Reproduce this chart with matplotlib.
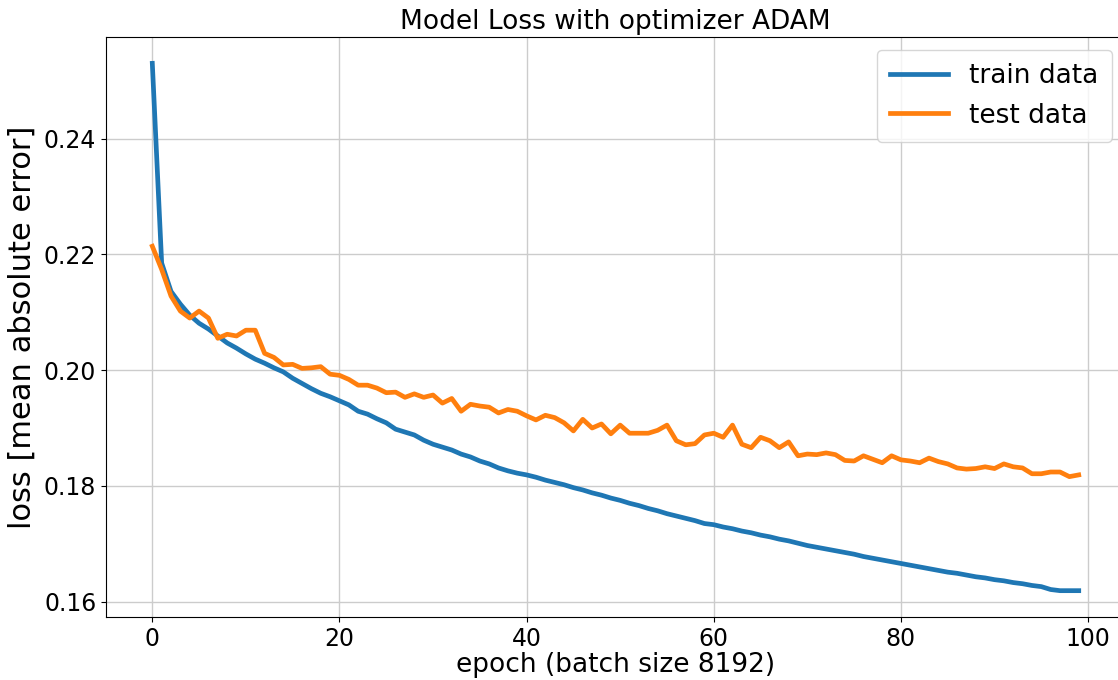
import numpy as np
import matplotlib
matplotlib.use("Agg")
import matplotlib.pyplot as plt

# loss per epoch
train_loss = [
    0.2530, 0.2185, 0.2136, 0.2114, 0.2095, 0.2081, 0.2071, 0.2059, 0.2047, 0.2038,
    0.2028, 0.2019, 0.2012, 0.2004, 0.1997, 0.1986, 0.1977, 0.1968, 0.1960, 0.1954,
    0.1947, 0.1940, 0.1929, 0.1924, 0.1916, 0.1909, 0.1898, 0.1893, 0.1888, 0.1879,
    0.1872, 0.1867, 0.1862, 0.1855, 0.1850, 0.1843, 0.1838, 0.1831, 0.1826, 0.1822,
    0.1819, 0.1815, 0.1810, 0.1806, 0.1802, 0.1797, 0.1793, 0.1788, 0.1784, 0.1779,
    0.1775, 0.1770, 0.1766, 0.1761, 0.1757, 0.1752, 0.1748, 0.1744, 0.1740, 0.1735,
    0.1733, 0.1729, 0.1726, 0.1722, 0.1719, 0.1715, 0.1712, 0.1708, 0.1705, 0.1701,
    0.1697, 0.1694, 0.1691, 0.1688, 0.1685, 0.1682, 0.1678, 0.1675, 0.1672, 0.1669,
    0.1666, 0.1663, 0.1660, 0.1657, 0.1654, 0.1651, 0.1649, 0.1646, 0.1643, 0.1641,
    0.1638, 0.1636, 0.1633, 0.1631, 0.1628, 0.1626, 0.1621, 0.1619, 0.1619, 0.1619,
]
test_loss = [
    0.2214, 0.2174, 0.2128, 0.2102, 0.2090, 0.2102, 0.2090, 0.2055, 0.2062, 0.2059,
    0.2069, 0.2069, 0.2029, 0.2022, 0.2009, 0.2010, 0.2003, 0.2004, 0.2006, 0.1993,
    0.1991, 0.1984, 0.1974, 0.1974, 0.1969, 0.1961, 0.1962, 0.1953, 0.1959, 0.1953,
    0.1957, 0.1943, 0.1951, 0.1929, 0.1941, 0.1938, 0.1936, 0.1926, 0.1932, 0.1929,
    0.1921, 0.1914, 0.1922, 0.1918, 0.1909, 0.1895, 0.1915, 0.1900, 0.1907, 0.1890,
    0.1905, 0.1891, 0.1891, 0.1891, 0.1896, 0.1905, 0.1878, 0.1871, 0.1873, 0.1888,
    0.1891, 0.1884, 0.1905, 0.1872, 0.1866, 0.1884, 0.1878, 0.1866, 0.1876, 0.1852,
    0.1855, 0.1854, 0.1857, 0.1854, 0.1844, 0.1843, 0.1852, 0.1846, 0.1840, 0.1852,
    0.1845, 0.1843, 0.1840, 0.1848, 0.1842, 0.1838, 0.1831, 0.1829, 0.1830, 0.1833,
    0.1830, 0.1838, 0.1833, 0.1831, 0.1821, 0.1821, 0.1824, 0.1824, 0.1816, 0.1819,
]
epochs = np.arange(len(train_loss))

fig = plt.figure(figsize=(11.18, 6.80), dpi=100)
ax = fig.add_axes([0.0948, 0.0926, 0.9115, 0.853])

ax.plot(epochs, train_loss, color='C0', lw=3.4, label='train data')
ax.plot(epochs, test_loss, color='C1', lw=3.4, label='test data')

ax.grid(True, color='#cccccc', lw=1.0)
ax.set_axisbelow(True)
ax.set_xticks([0, 20, 40, 60, 80, 100])
ax.set_yticks([0.16, 0.18, 0.20, 0.22, 0.24])
ax.tick_params(labelsize=17)
ax.set_xlabel('epoch (batch size 8192)', fontsize=19, labelpad=1)
ax.set_ylabel('loss [mean absolute error]', fontsize=22, labelpad=5)
ax.set_title('Model Loss with optimizer ADAM', fontsize=19, pad=6)
ax.legend(loc='upper right', fontsize=19, handlelength=2.2, borderpad=0.5)

fig.savefig('out.png', dpi=100)
